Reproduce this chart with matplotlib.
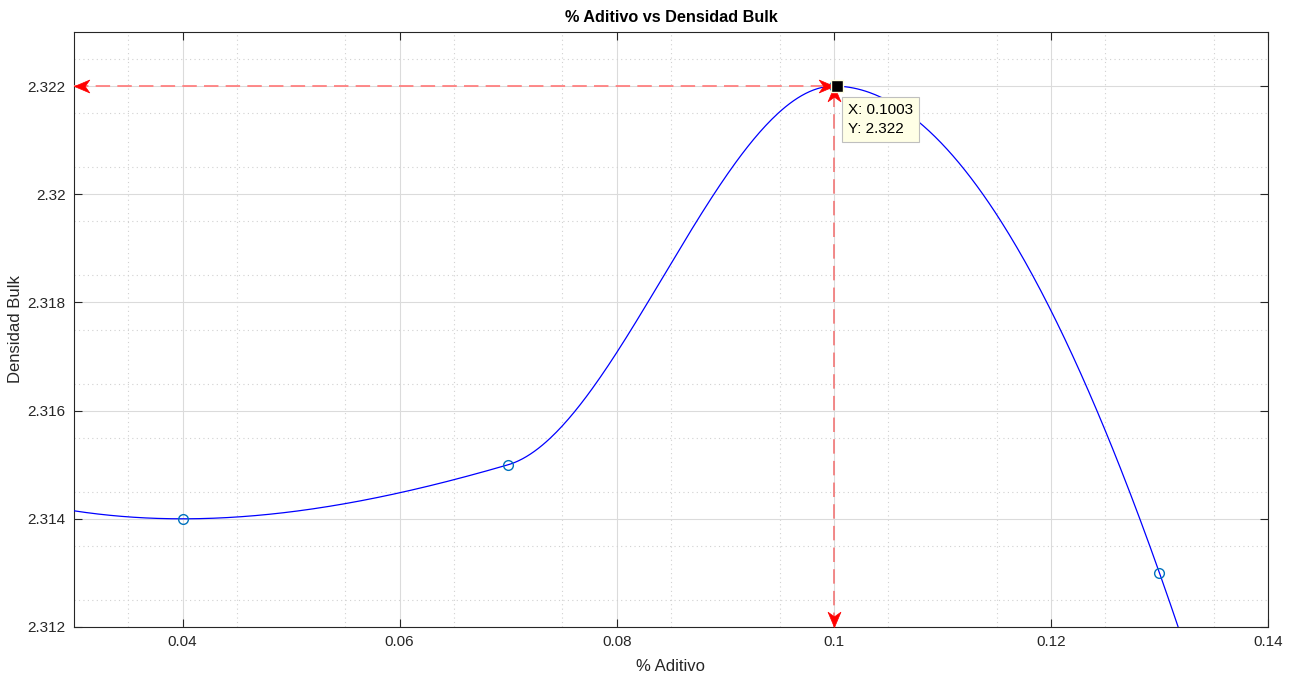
import numpy as np
import matplotlib
matplotlib.use("Agg")
import matplotlib.pyplot as plt
from matplotlib.path import Path

plt.rcParams["font.family"] = ["Liberation Sans", "DejaVu Sans"]

# measured points
aditivo = [0.04, 0.07, 0.10, 0.13]
densidad = [2.314, 2.315, 2.322, 2.313]

# data tip
tip_x, tip_y = 0.1003, 2.322

x_ticks = [0.04, 0.06, 0.08, 0.1, 0.12, 0.14]
x_labels = ["0.04", "0.06", "0.08", "0.1", "0.12", "0.14"]
y_ticks = [2.312, 2.314, 2.316, 2.318, 2.32, 2.322]
y_labels = ["2.312", "2.314", "2.316", "2.318", "2.32", "2.322"]


def pchip_slopes(x, y):
    h = np.diff(x)
    delta = np.diff(y) / h
    n = len(x)
    d = np.zeros(n)
    for k in range(1, n - 1):
        if delta[k - 1] * delta[k] > 0:
            w1 = 2 * h[k] + h[k - 1]
            w2 = h[k] + 2 * h[k - 1]
            d[k] = (w1 + w2) / (w1 / delta[k - 1] + w2 / delta[k])

    def end(h0, h1, d0, d1):
        s = ((2 * h0 + h1) * d0 - h0 * d1) / (h0 + h1)
        if np.sign(s) != np.sign(d0):
            s = 0.0
        elif np.sign(d0) != np.sign(d1) and abs(s) > abs(3 * d0):
            s = 3 * d0
        return s

    d[0] = end(h[0], h[1], delta[0], delta[1])
    d[-1] = end(h[-1], h[-2], delta[-1], delta[-2])
    return d


def pchip(x, y, xq):
    x = np.asarray(x, float)
    y = np.asarray(y, float)
    d = pchip_slopes(x, y)
    idx = np.clip(np.searchsorted(x, xq) - 1, 0, len(x) - 2)
    h = x[idx + 1] - x[idx]
    t = (xq - x[idx]) / h
    h00 = 2 * t**3 - 3 * t**2 + 1
    h10 = t**3 - 2 * t**2 + t
    h01 = -2 * t**3 + 3 * t**2
    h11 = t**3 - t**2
    return h00 * y[idx] + h10 * h * d[idx] + h01 * y[idx + 1] + h11 * h * d[idx + 1]


def barb(angle_deg):
    # swept-back arrowhead, tip at the origin
    pts = np.array([[0, 0], [-1, 0.42], [-0.7, 0], [-1, -0.42], [0, 0]])
    a = np.deg2rad(angle_deg)
    rot = np.array([[np.cos(a), -np.sin(a)], [np.sin(a), np.cos(a)]])
    pts = pts @ rot.T
    return Path(pts, [Path.MOVETO, Path.LINETO, Path.LINETO, Path.LINETO,
                      Path.CLOSEPOLY])


xx = np.linspace(0.03, 0.14, 600)
yy = pchip(aditivo, densidad, xx)

fig = plt.figure(figsize=(12.97, 6.80), dpi=100)
ax = fig.add_axes([74 / 1297, 1 - 627 / 680, 1194 / 1297, 595 / 680])

ax.plot(xx, yy, color="blue", lw=0.9, zorder=3)
ax.plot(aditivo, densidad, "o", ms=7, mfc="none", mec=(0, 0.447, 0.741),
        mew=1.0, zorder=4)

ax.set_xlim(0.03, 0.14)
ax.set_ylim(2.312, 2.323)
ax.set_xticks(x_ticks, x_labels)
ax.set_yticks(y_ticks, y_labels)
ax.set_xticks(np.arange(0.035, 0.14, 0.01), minor=True)
ax.set_yticks(np.arange(2.3125, 2.323, 0.001), minor=True)
ax.grid(True, which="major", color=(0.86, 0.86, 0.86), lw=0.8)
ax.grid(True, which="minor", color=(0.82, 0.82, 0.82), lw=0.8, ls=(0, (1, 3)))
ax.tick_params(which="major", direction="in", top=True, right=True,
               length=6, width=0.8, labelsize=11, colors=(0.15, 0.15, 0.15),
               pad=6)
ax.tick_params(which="minor", length=0)
for s in ax.spines.values():
    s.set_color((0.15, 0.15, 0.15))
    s.set_linewidth(0.8)

ax.set_xlabel("% Aditivo", fontsize=12, color=(0.15, 0.15, 0.15), labelpad=7)
ax.set_ylabel("Densidad Bulk", fontsize=12, color=(0.15, 0.15, 0.15), labelpad=3)
ax.set_title("% Aditivo vs Densidad Bulk", fontsize=11.7, fontweight="bold",
             pad=7)

# dashed guide lines from the peak to both axes
peak_x, peak_y = aditivo[2], densidad[2]
ax.plot([0.03, peak_x], [peak_y, peak_y], color=(1, 0.5, 0.5),
        ls=(0, (8, 4)), lw=1.3, zorder=5)
ax.plot([peak_x, peak_x], [2.312, peak_y], color=(0.95, 0.5, 0.5),
        ls=(0, (8, 4)), lw=1.3, zorder=5)

for (hx, hy), ang in [((0.03, peak_y), 180), ((peak_x, peak_y), 0),
                      ((peak_x, peak_y), 90), ((peak_x, 2.312), -90)]:
    ax.plot([hx], [hy], marker=barb(ang), ms=22, color="red", mec="red",
            mew=0.5, ls="none", zorder=6, clip_on=False)

# data tip marker and label
ax.plot([tip_x], [tip_y], "s", ms=9, mfc="black", mec=(1, 1, 0.88), mew=1.0,
        zorder=7)
ax.annotate(f"X: {tip_x:.4f}\nY: {tip_y:.3f}", xy=(tip_x, tip_y),
            xytext=(8, -12), textcoords="offset points", ha="left", va="top",
            fontsize=11, linespacing=1.5, zorder=8,
            bbox=dict(boxstyle="square,pad=0.4", fc=(1, 1, 0.9),
                      ec=(0.75, 0.75, 0.75), lw=0.8))

fig.savefig("out.png", dpi=100)
